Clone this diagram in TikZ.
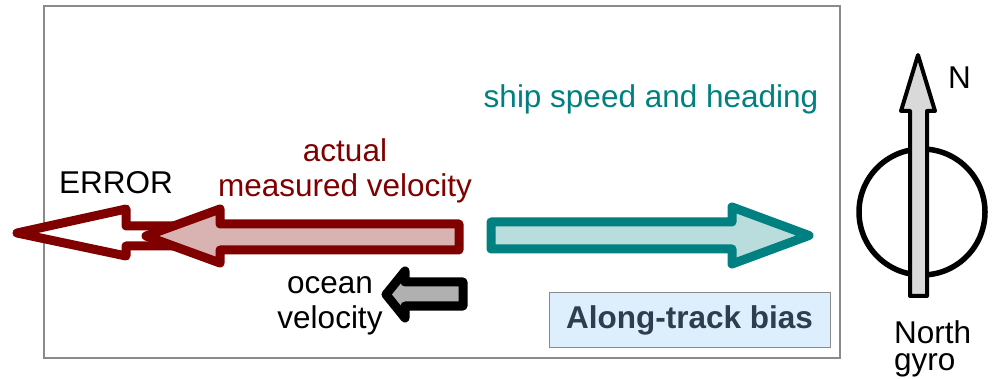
\documentclass[tikz,border=0pt]{standalone}
\usepackage{fontspec}
\setmainfont{Liberation Sans}
\definecolor{dred}{HTML}{800000}
\definecolor{pinkf}{HTML}{D9B2B2}
\definecolor{teal}{HTML}{008080}
\definecolor{tealf}{HTML}{B9DCDC}
\definecolor{oceanf}{HTML}{B0B0B0}
\definecolor{gyrof}{HTML}{D9D9D9}
\definecolor{boxf}{HTML}{DDEEFC}
\definecolor{boxt}{HTML}{2E3D4F}
\definecolor{framec}{HTML}{8A8A8A}
\tikzset{
  bigarrow/.style={line width=9pt, line join=round},
  lbl/.style={font=\fontsize{31.5}{35}\selectfont, inner sep=0pt, align=center},
}
\begin{document}
\begin{tikzpicture}[x=1pt,y=-1pt]
\useasboundingbox (0,0) rectangle (993,379);
% frame
\draw[framec, line width=1.5pt] (44,6) rectangle (840,358);
% ERROR arrow
\draw[bigarrow, dred, fill=white] (17,233) -- (126,209) -- (126,226) -- (455,226) -- (455,246) -- (126,246) -- (126,256) -- cycle;
% measured velocity arrow
\draw[bigarrow, dred, fill=pinkf] (146,236) -- (220,209) -- (220,224) -- (459,224) -- (459,250) -- (220,250) -- (220,263) -- cycle;
% ship arrow
\draw[bigarrow, teal, fill=tealf] (491,222) -- (732,222) -- (732,207) -- (809,235.5) -- (732,264) -- (732,249) -- (491,249) -- cycle;
% ocean arrow
\draw[bigarrow, black, fill=oceanf] (386,294.5) -- (405,271) -- (405,282) -- (463,282) -- (463,306) -- (405,306) -- (405,318) -- cycle;
% gyro
\draw[line width=5.5pt] (922,212) circle (63);
\draw[line width=4pt, line join=round, fill=gyrof] (918,55) -- (935,111) -- (927,111) -- (927,296) -- (910,296) -- (910,111) -- (901,111) -- cycle;
% box
\node[draw=framec, fill=boxf, line width=1pt, minimum width=281pt, minimum height=54pt, inner sep=0pt,
      font=\fontsize{31.5}{35}\selectfont\bfseries, text=boxt] (bias) at (689.5,320) {Along-track bias};
% labels
\node[lbl, anchor=base] (err) at (116,194) {ERROR};
\node[lbl, text=dred] (meas) at (345,170.5) {actual\\measured velocity};
\node[lbl, text=teal, anchor=base] (ship) at (651,108) {ship speed and heading};
\node[lbl] (ocean) at (330,306) {ocean\\velocity};
\node[lbl, anchor=base west] (n) at (948,89) {N};
\node[lbl, align=left, anchor=north west, font=\fontsize{31.5}{27}\selectfont] (gyro) at (894,320) {North\\gyro};
\end{tikzpicture}
\end{document}
